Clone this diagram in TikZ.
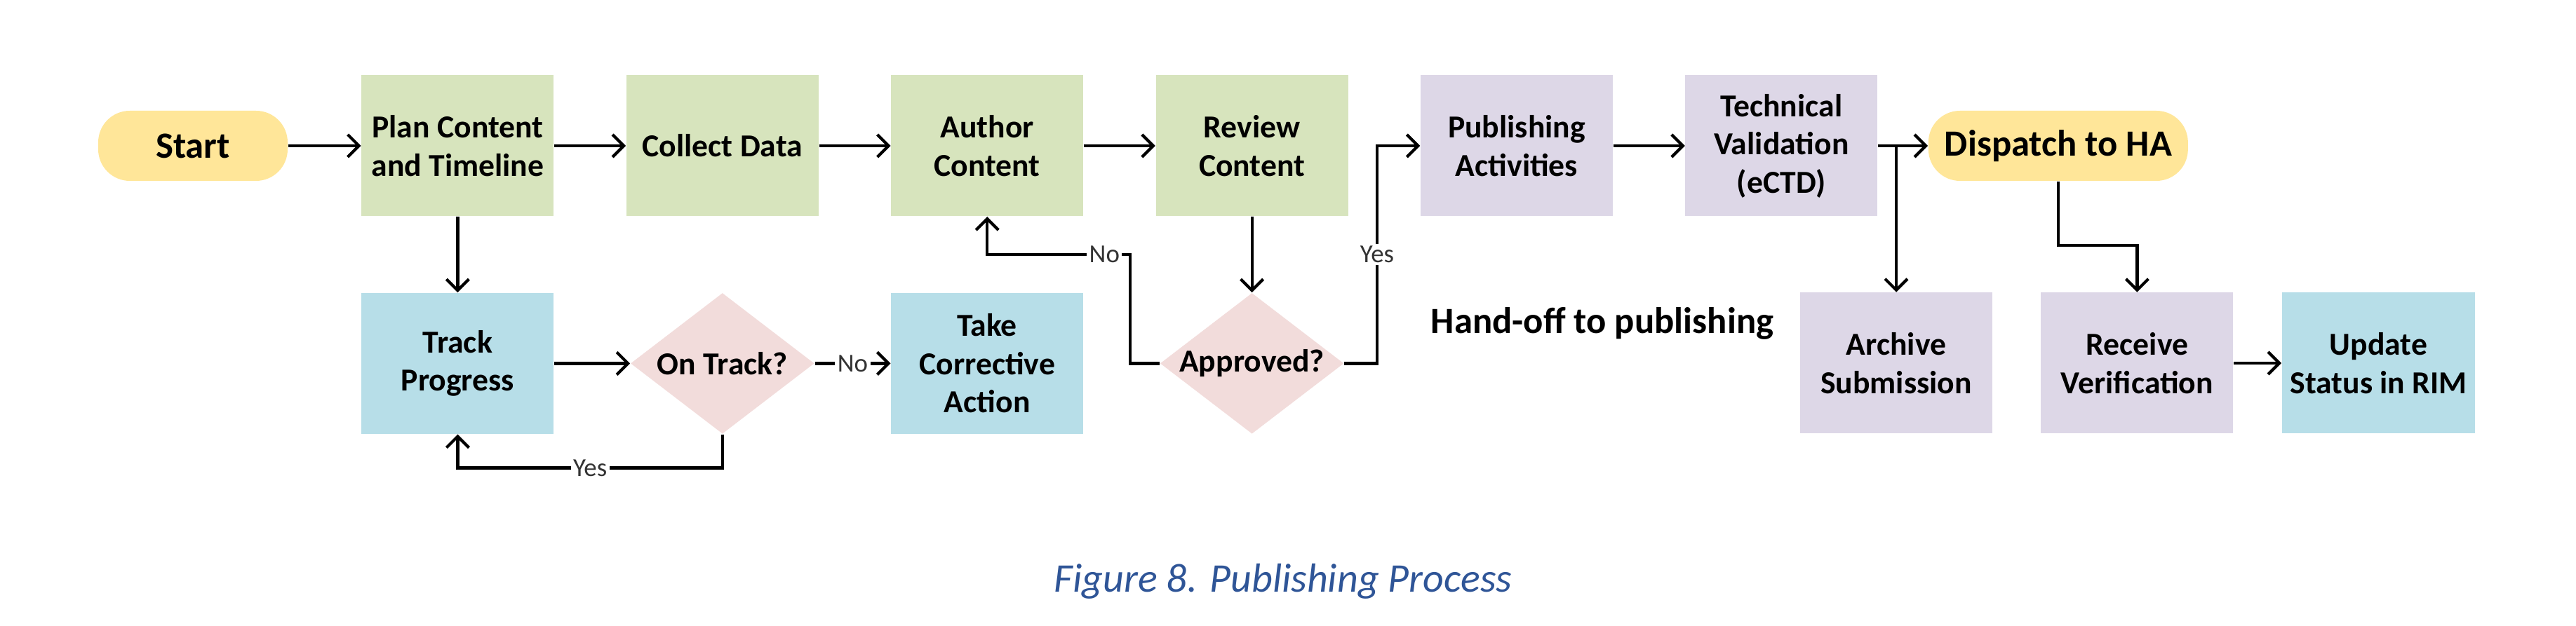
\documentclass[tikz,border=0pt]{standalone}
\usepackage{fontspec}
\setmainfont{Carlito}
\usepackage{tikz}
\usetikzlibrary{positioning, shapes.geometric, arrows.meta}

\definecolor{termyellow}{HTML}{FFE699}
\definecolor{plangreen}{HTML}{D7E4BD}
\definecolor{trackblue}{HTML}{B7DEE8}
\definecolor{pubpurple}{HTML}{DDD7E7}
\definecolor{decpink}{HTML}{F2DCDB}
\definecolor{captionblue}{HTML}{2F5597}

\newcommand{\boxfont}{\fontsize{13}{15.5}\selectfont\bfseries}

\begin{document}
\begin{tikzpicture}[
                node distance=1.02cm,
                terminal/.style={rectangle, fill=termyellow, rounded corners=0.45cm, minimum height=1cm, font=\fontsize{15}{18}\selectfont\bfseries},
                greenbox/.style={rectangle, fill=plangreen, minimum width=2.74cm, minimum height=2.01cm, align=center, font=\boxfont},
                bluebox/.style={greenbox, fill=trackblue},
                purplebox/.style={greenbox, fill=pubpurple},
                decision/.style={diamond, fill=decpink, aspect=1.3, minimum width=2.62cm, minimum height=2.01cm, inner sep=0pt, font=\boxfont},
                edge/.style={line width=1.2pt, -{Straight Barb[length=1.6mm, width=3.2mm]}},
                edgelabel/.style={fill=white, inner sep=1pt, text=black!80, font=\fontsize{10.5}{12}\selectfont}
            ]

            \useasboundingbox (0,0) rectangle (36.72,-8.93);

            % Knoten
            \node[terminal, minimum width=2.7cm] (start) at (2.75,-2.08) {Start};
            \node[greenbox, right=1.04cm of start] (plan) {Plan Content\\and Timeline};
            \node[greenbox, right=of plan] (collect) {Collect Data};
            \node[greenbox, right=of collect] (author) {Author\\Content};
            \node[greenbox, right=of author] (review) {Review\\Content};
            \node[purplebox, right=of review] (pub) {Publishing\\Activities};
            \node[purplebox, right=of pub] (tech) {Technical\\Validation\\(eCTD)};
            \node[terminal, minimum width=3.7cm, right=0.71cm of tech] (dispatch) {Dispatch to HA};

            \node[bluebox, below=1.08cm of plan] (track) {Track\\Progress};
            \node[decision, below=1.08cm of collect] (ontrack) {On Track?};
            \node[bluebox, below=1.08cm of author] (corrective) {Take\\Corrective\\Action};
            \node[decision, below=1.08cm of review] (approved) {Approved?};
            \node[font=\fontsize{15}{18}\selectfont\bfseries] (handoff) at (22.84,-4.61) {Hand-off to publishing};
            \node[purplebox] (archive) at (27.03,-5.18) {Archive\\Submission};
            \node[purplebox, right=0.68cm of archive] (receive) {Receive\\Verification};
            \node[bluebox, right=0.68cm of receive] (update) {Update\\Status in RIM};

            \node[text=captionblue, font=\fontsize{16.5}{20}\selectfont\itshape] (caption) at (18.29,-8.29) {Figure 8. Publishing Process};

            \coordinate (nobend) at (16.11,-3.63);
            \coordinate (yesbend) at (19.63,-3.63);

            % Kanten zwischen Knoten
            \draw[edge] (start) -- (plan);
            \draw[edge] (plan) -- (collect);
            \draw[edge] (collect) -- (author);
            \draw[edge] (author) -- (review);
            \draw[edge] (pub) -- (tech);
            \draw[edge] (tech) -- (dispatch);
            \draw[edge] (tech.east -| archive.north) -- (archive.north);
            \draw[edge] (dispatch.south) -- ++(0,-0.91) -| (receive.north);
            \draw[edge] (receive) -- (update);

            \draw[edge] (plan) -- (track);
            \draw[edge] (track) -- (ontrack);
            \draw[edge] (ontrack) -- node[edgelabel] {No} (corrective);
            \draw[edge] (ontrack.south) -- ++(0,-0.48) -| node[edgelabel, pos=0.25] {Yes} (track.south);

            \draw[edge] (review) -- (approved);
            \draw[edge] (approved.west) -| (nobend) -| node[edgelabel, pos=0.09] {No} (author.south);
            \draw[edge] (approved.east) -| node[edgelabel, pos=1] {Yes} (yesbend) |- (pub.west);

        \end{tikzpicture}
\end{document}
